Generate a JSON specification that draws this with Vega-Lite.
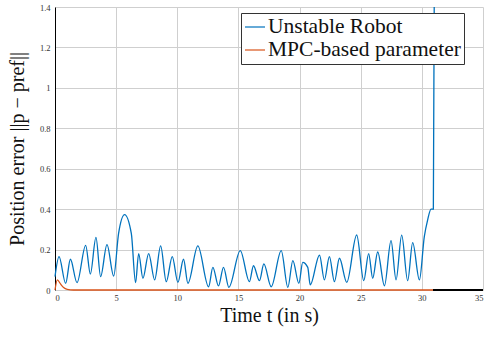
{
  "$schema": "https://vega.github.io/schema/vega-lite/v6.json",
  "width": 428,
  "height": 283,
  "autosize": {"type": "none"},
  "padding": {"left": 55, "top": 7, "right": 2, "bottom": 47},
  "background": "white",
  "config": {
    "view": {"stroke": null},
    "font": "Liberation Serif",
    "axis": {
      "labelFont": "Liberation Serif",
      "titleFont": "Liberation Serif",
      "labelFontSize": 8.5,
      "labelColor": "#333333",
      "titleFontSize": 20,
      "titleFontWeight": "normal",
      "titleColor": "#111111",
      "gridColor": "#cfcfcf",
      "gridWidth": 1,
      "domainColor": "#000000",
      "domainWidth": 1,
      "ticks": false
    }
  },
  "data": {
    "values": [
      {"t": 0.0, "y": 0.066, "s": "Unstable Robot"},
      {"t": 0.33, "y": 0.165, "s": "Unstable Robot"},
      {"t": 0.87, "y": 0.033, "s": "Unstable Robot"},
      {"t": 1.26, "y": 0.152, "s": "Unstable Robot"},
      {"t": 1.8, "y": 0.036, "s": "Unstable Robot"},
      {"t": 2.51, "y": 0.221, "s": "Unstable Robot"},
      {"t": 2.89, "y": 0.079, "s": "Unstable Robot"},
      {"t": 3.35, "y": 0.26, "s": "Unstable Robot"},
      {"t": 3.73, "y": 0.066, "s": "Unstable Robot"},
      {"t": 4.25, "y": 0.224, "s": "Unstable Robot"},
      {"t": 4.8, "y": 0.069, "s": "Unstable Robot"},
      {"t": 5.2, "y": 0.28, "s": "Unstable Robot"},
      {"t": 5.69, "y": 0.373, "s": "Unstable Robot"},
      {"t": 6.24, "y": 0.28, "s": "Unstable Robot"},
      {"t": 6.59, "y": 0.036, "s": "Unstable Robot"},
      {"t": 6.84, "y": 0.18, "s": "Unstable Robot"},
      {"t": 7.19, "y": 0.058, "s": "Unstable Robot"},
      {"t": 7.66, "y": 0.18, "s": "Unstable Robot"},
      {"t": 8.15, "y": 0.05, "s": "Unstable Robot"},
      {"t": 8.64, "y": 0.218, "s": "Unstable Robot"},
      {"t": 9.1, "y": 0.041, "s": "Unstable Robot"},
      {"t": 9.59, "y": 0.165, "s": "Unstable Robot"},
      {"t": 10.05, "y": 0.038, "s": "Unstable Robot"},
      {"t": 10.51, "y": 0.152, "s": "Unstable Robot"},
      {"t": 10.87, "y": 0.033, "s": "Unstable Robot"},
      {"t": 11.68, "y": 0.218, "s": "Unstable Robot"},
      {"t": 12.56, "y": 0.016, "s": "Unstable Robot"},
      {"t": 12.91, "y": 0.112, "s": "Unstable Robot"},
      {"t": 13.37, "y": 0.02, "s": "Unstable Robot"},
      {"t": 13.78, "y": 0.112, "s": "Unstable Robot"},
      {"t": 14.22, "y": 0.013, "s": "Unstable Robot"},
      {"t": 15.15, "y": 0.195, "s": "Unstable Robot"},
      {"t": 15.9, "y": 0.041, "s": "Unstable Robot"},
      {"t": 16.23, "y": 0.12, "s": "Unstable Robot"},
      {"t": 16.72, "y": 0.046, "s": "Unstable Robot"},
      {"t": 17.08, "y": 0.129, "s": "Unstable Robot"},
      {"t": 17.68, "y": 0.016, "s": "Unstable Robot"},
      {"t": 18.5, "y": 0.195, "s": "Unstable Robot"},
      {"t": 19.04, "y": 0.013, "s": "Unstable Robot"},
      {"t": 19.45, "y": 0.145, "s": "Unstable Robot"},
      {"t": 19.94, "y": 0.033, "s": "Unstable Robot"},
      {"t": 20.26, "y": 0.137, "s": "Unstable Robot"},
      {"t": 20.67, "y": 0.112, "s": "Unstable Robot"},
      {"t": 20.87, "y": 0.025, "s": "Unstable Robot"},
      {"t": 21.63, "y": 0.173, "s": "Unstable Robot"},
      {"t": 22.03, "y": 0.05, "s": "Unstable Robot"},
      {"t": 22.44, "y": 0.165, "s": "Unstable Robot"},
      {"t": 22.85, "y": 0.041, "s": "Unstable Robot"},
      {"t": 23.26, "y": 0.157, "s": "Unstable Robot"},
      {"t": 23.86, "y": 0.038, "s": "Unstable Robot"},
      {"t": 24.67, "y": 0.272, "s": "Unstable Robot"},
      {"t": 25.25, "y": 0.046, "s": "Unstable Robot"},
      {"t": 25.65, "y": 0.18, "s": "Unstable Robot"},
      {"t": 25.98, "y": 0.058, "s": "Unstable Robot"},
      {"t": 26.39, "y": 0.188, "s": "Unstable Robot"},
      {"t": 26.94, "y": 0.021, "s": "Unstable Robot"},
      {"t": 27.48, "y": 0.244, "s": "Unstable Robot"},
      {"t": 27.89, "y": 0.05, "s": "Unstable Robot"},
      {"t": 28.35, "y": 0.271, "s": "Unstable Robot"},
      {"t": 28.84, "y": 0.046, "s": "Unstable Robot"},
      {"t": 29.25, "y": 0.234, "s": "Unstable Robot"},
      {"t": 29.8, "y": 0.05, "s": "Unstable Robot"},
      {"t": 30.2, "y": 0.264, "s": "Unstable Robot"},
      {"t": 30.47, "y": 0.346, "s": "Unstable Robot"},
      {"t": 30.75, "y": 0.4, "s": "Unstable Robot"},
      {"t": 30.94, "y": 0.4, "s": "Unstable Robot"},
      {"t": 31.01, "y": 1.4, "s": "Unstable Robot"},
      {"t": 0.0, "y": 0.0, "s": "MPC-based parameter"},
      {"t": 0.19, "y": 0.05, "s": "MPC-based parameter"},
      {"t": 0.45, "y": 0.03, "s": "MPC-based parameter"},
      {"t": 0.7, "y": 0.012, "s": "MPC-based parameter"},
      {"t": 1.0, "y": 0.003, "s": "MPC-based parameter"},
      {"t": 1.5, "y": 0.0, "s": "MPC-based parameter"},
      {"t": 30.94, "y": 0.0, "s": "MPC-based parameter"}
    ]
  },
  "layer": [
    {
      "mark": {"type": "line", "clip": false, "strokeWidth": 1.3, "interpolate": "monotone"},
      "encoding": {
        "x": {
          "field": "t", "type": "quantitative",
          "scale": {"domain": [0, 35], "nice": false},
          "axis": {"values": [0, 5, 10, 15, 20, 25, 30, 35], "title": "Time t (in s)", "labelPadding": 3, "titlePadding": 4, "format": "~g", "domain": false}
        },
        "y": {
          "field": "y", "type": "quantitative",
          "scale": {"domain": [0, 1.4], "nice": false},
          "axis": {"values": [0, 0.2, 0.4, 0.6, 0.8, 1, 1.2, 1.4], "title": "Position error ||p − pref||", "labelPadding": 5, "titlePadding": 12, "format": "~g"}
        },
        "color": {
          "field": "s", "type": "nominal",
          "scale": {"domain": ["Unstable Robot", "MPC-based parameter"], "range": ["#0072BD", "#D95319"]},
          "legend": {
            "title": null,
            "orient": "none",
            "legendX": 186,
            "legendY": 6,
            "symbolType": "stroke",
            "symbolSize": 400,
            "symbolStrokeWidth": 1.2,
            "labelFont": "Liberation Serif",
            "labelFontSize": 21.5,
            "labelColor": "#111111",
            "labelOffset": 2,
            "rowPadding": 1,
            "padding": 3,
            "strokeColor": "#333333",
            "fillColor": "white",
            "labelLimit": 400
          }
        }
      }
    },
    {
      "mark": {"type": "rule", "color": "#000000", "strokeWidth": 1},
      "encoding": {
        "x": {"datum": 30.94, "type": "quantitative"},
        "x2": {"datum": 35},
        "y": {"datum": 0, "type": "quantitative"}
      }
    }
  ]
}
